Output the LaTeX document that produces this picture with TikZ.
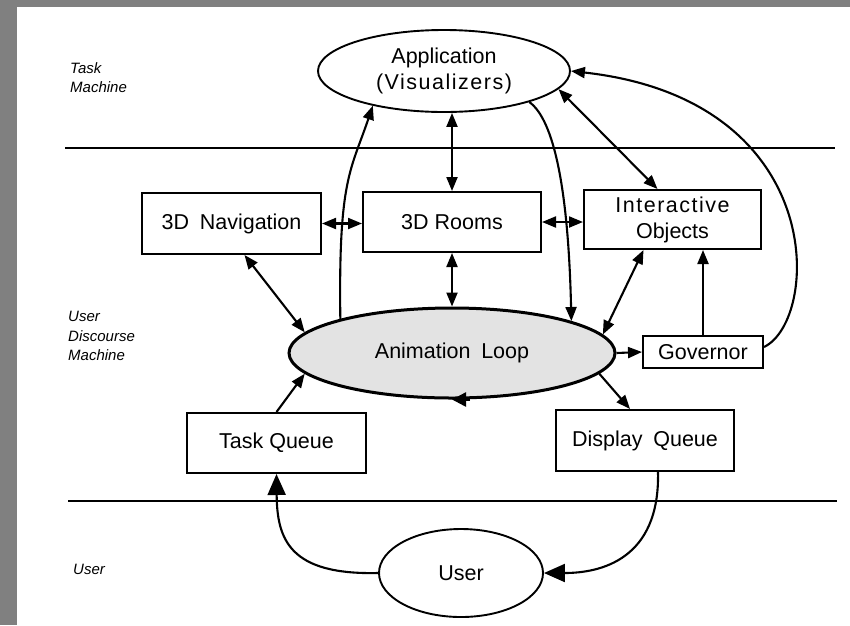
\documentclass[tikz,border=0pt]{standalone}
\usepackage{fontspec}
\setmainfont{Liberation Sans}
\newfontfamily\spacedfont[LetterSpace=7]{Liberation Sans}
\usetikzlibrary{shapes.geometric,arrows.meta}
\definecolor{bordergray}{RGB}{128,128,128}
\begin{document}
\begin{tikzpicture}[x=1pt,y=-1pt,
  txt/.style={font=\fontsize{21.5}{26}\selectfont},
  boxnode/.style={txt,draw,line width=2pt,inner sep=0pt,align=center},
  ellnode/.style={txt,draw,ellipse,line width=1.9pt,inner sep=0pt,align=center},
  lbl/.style={anchor=base west,inner sep=0pt,font=\fontsize{15}{19}\selectfont\itshape},
  conn/.style={line width=2.1pt},
  tip/.style={-{Triangle[length=14pt,width=11pt]}},
  both/.style={{Triangle[length=14pt,width=11pt]}-{Triangle[length=14pt,width=11pt]}},
  bigtip/.style={-{Triangle[length=21pt,width=18pt]}},
  band/.style={line width=2.6pt}]
\useasboundingbox (0,0) rectangle (850,625);
\fill[white] (0,0) rectangle (850,625);
\fill[bordergray] (0,0) rectangle (17,625);
\fill[bordergray] (0,0) rectangle (850,7);

% band lines
\draw[band] (65,148) -- (835,148);
\draw[band] (68,501) -- (837,501);

% labels
\node[lbl] (lt1) at (70,73.5) {Task};
\node[lbl] (lt2) at (70,92.5) {Machine};
\node[lbl] (lu1) at (68,321.5) {User};
\node[lbl] (lu2) at (68,341) {Discourse};
\node[lbl] (lu3) at (68,360.5) {Machine};
\node[lbl] (lu4) at (73,574.5) {User};

% nodes
\node[ellnode,minimum width=252pt,minimum height=82pt] (app) at (444,71)
  {Application\\{\spacedfont(Visualizers)}};
\node[boxnode,minimum width=179pt,minimum height=61pt] (nav) at (231.5,223.5) {3D\hspace{0.5em}Navigation};
\node[boxnode,minimum width=178pt,minimum height=60pt] (rooms) at (452,222) {3D Rooms};
\node[boxnode,minimum width=177pt,minimum height=59pt] (inter) at (672.5,219.5)
  {{\spacedfont Interactive}\\Objects};
\node[ellnode,line width=3pt,fill=black!11,minimum width=326pt,minimum height=90pt] (anim) at (452,353)
  {Animation\hspace{0.5em}Loop};
\node[boxnode,minimum width=120pt,minimum height=32pt] (gov) at (703,352) {Governor};
\node[boxnode,minimum width=179pt,minimum height=60pt] (task) at (276.5,443) {Task Queue};
\node[boxnode,minimum width=178pt,minimum height=61pt] (disp) at (645,440.5) {Display\hspace{0.5em}Queue};
\node[ellnode,minimum width=164pt,minimum height=88pt] (user) at (461,573) {User};

% connectors
\draw[conn,both] (app.south -| rooms.north) -- (rooms.north);
\draw[conn,both] (rooms.south) -- (rooms.south |- anim.north);
\draw[conn,both] (nav.east) -- (nav.east -| rooms.west);
\draw[conn,both] (rooms.east) -- (rooms.east -| inter.west);
\draw[conn,both] (app.-9.5) -- ([xshift=-15pt]inter.north);
\draw[conn,both] ([xshift=13pt]nav.south) -- (anim.172);
\draw[conn,both] ([xshift=-29pt]inter.south) -- (anim.7.5);
\draw[conn,tip] (anim.163.6) .. controls +(-2,-140) and +(-22,65) .. (app.-154);
\draw[conn,tip] (app.-20) .. controls +(25,18) and +(-3,-130) .. (anim.15);
\draw[conn,tip] (anim.east) -- (gov.west);
\draw[conn,tip] (gov.north) -- (gov.north |- inter.south);
\draw[conn,tip] ([yshift=5pt]gov.east) .. controls (820,320) and (830,100) .. (app.east);
\draw[conn,tip] (anim.-8.6) -- ([xshift=-15pt]disp.north);
\draw[conn,tip] (task.north) -- (anim.-172);
\draw[conn,bigtip] (user.west) .. controls (290,575) and (277,540) .. (task.south);
\draw[conn,bigtip] ([xshift=13pt]disp.south) .. controls (660,560) and (600,573) .. (user.east);
% loop direction mark on the animation loop
\draw[line width=2.5pt,-{Triangle[length=14pt,width=14pt]}] ([xshift=18pt]anim.south) -- (anim.south);
\end{tikzpicture}
\end{document}
